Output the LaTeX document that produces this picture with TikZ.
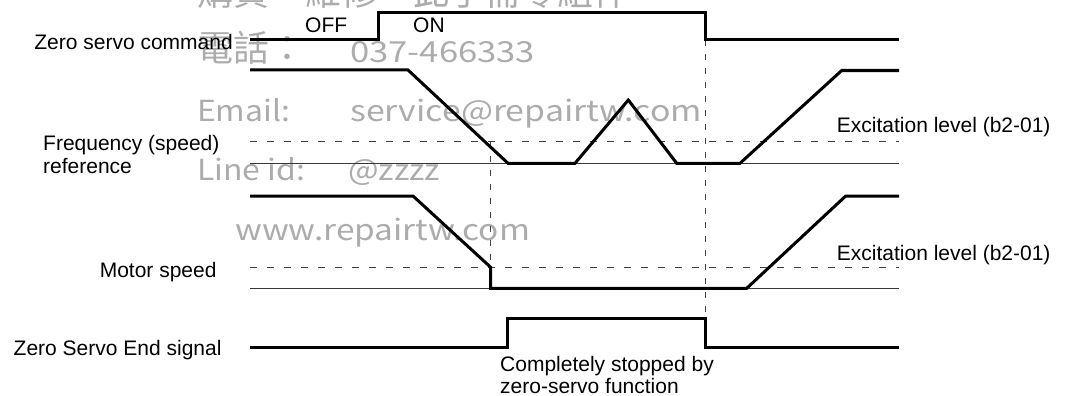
\documentclass[tikz,border=0pt]{standalone}
\usepackage{fontspec}
\usepackage{graphicx}
\setmainfont{Liberation Sans}
\newfontfamily\wmfont{Noto Sans CJK TC}
\definecolor{wmgray}{RGB}{172,172,172}
\tikzset{
  lbl/.style={font=\fontsize{21}{23}\selectfont, inner sep=0pt, text=black},
  wm/.style={inner sep=0pt, text=wmgray},
  sig/.style={line width=3pt, black, line join=miter},
  zeroline/.style={line width=1.4pt, black!78},
  level/.style={line width=1.2pt, black!75, dash pattern=on 7pt off 10pt},
  vmark/.style={line width=1.2pt, black!75, dash pattern=on 6pt off 8pt},
}
\newcommand{\wmtxt}[2]{\resizebox{#1pt}{\height}{\wmfont\fontsize{29}{30}\selectfont #2}}
\begin{document}
\begin{tikzpicture}[x=1pt,y=-1pt]
\useasboundingbox (0,0) rectangle (1065,396);
% ---------- watermark ----------
\begin{scope}
\clip (0,0) rectangle (1065,396);
\node[wm, anchor=base west] (wm0) at (197,6) {\wmfont\fontsize{36}{38}\selectfont 購買　維修　此手冊零組件};
\node[wm, anchor=base west] (wm1) at (197,62) {\wmfont\fontsize{36}{38}\selectfont 電話：};
\node[wm, anchor=base west] (wm2) at (350,62) {\wmtxt{185}{037-466333}};
\node[wm, anchor=base west] (wm3) at (197,121.7) {\wmtxt{93}{Email:}};
\node[wm, anchor=base west] (wm4) at (350,121.7) {\wmtxt{352}{service@repairtw.com}};
\node[wm, anchor=base west] (wm5) at (197,180) {\wmtxt{108}{Line id:}};
\node[wm, anchor=base west] (wm6) at (348,180) {\wmtxt{92}{@zzzz}};
\node[wm, anchor=base west] (wm7) at (235,240) {\wmtxt{295}{www.repairtw.com}};
\end{scope}
% ---------- labels ----------
\node[lbl, anchor=base east] (lcmd) at (233,49) {Zero servo command};
\node[lbl, anchor=base west] (loff) at (305,33) {OFF};
\node[lbl, anchor=base west] (lon) at (413,33) {ON};
\node[lbl, anchor=base west] (lfreq1) at (43,150) {Frequency (speed)};
\node[lbl, anchor=base west] (lfreq2) at (43,173) {reference};
\node[lbl, anchor=base west] (lexc1) at (836.7,132.7) {Excitation level (b2-01)};
\node[lbl, anchor=base east] (lmot) at (216.7,277.3) {Motor speed};
\node[lbl, anchor=base west] (lexc2) at (836.7,260.7) {Excitation level (b2-01)};
\node[lbl, anchor=base east] (lend) at (221.7,355) {Zero Servo End signal};
\node[lbl, anchor=base west] (lstop1) at (500,371.7) {Completely stopped by};
\node[lbl, anchor=base west] (lstop2) at (500,393.5) {zero-servo function};
% ---------- reference levels ----------
\draw[zeroline] (250,163.3) -- (899,163.3);
\draw[level] (250,141.7) -- (899,141.7);
\draw[zeroline] (250,288.3) -- (899,288.3);
\draw[level] (250,267.3) -- (899,267.3);
% ---------- vertical markers ----------
\coordinate (cmdoff) at (705.7,40);
\coordinate (endoff) at (705.7,318.3);
\coordinate (lvlhit) at (490.7,141.7);
\coordinate (motlvl) at (490.7,267.3);
\draw[vmark] (cmdoff) -- (endoff);
\draw[vmark] (lvlhit) -- (motlvl);
% ---------- signals ----------
\draw[sig] (250,40) -- (378.5,40) -- (378.5,12.5) -- (705.7,12.5) -- (705.7,40) -- (899,40);
\draw[sig] (250,70) -- (408,70) -- (508,163.3) -- (575,163.3) -- (628.3,100) -- (676.7,163.3) -- (740,163.3) -- (841.7,70.5) -- (899,70.5);
\draw[sig] (250,196) -- (413,196) -- (motlvl) -- (490.7,288.3) -- (746.7,288.3) -- (845.7,196) -- (899,196);
\draw[sig] (250,347.5) -- (507.3,347.5) -- (507.3,318.3) -- (endoff) -- (705.7,347.5) -- (899,347.5);
\end{tikzpicture}
\end{document}
